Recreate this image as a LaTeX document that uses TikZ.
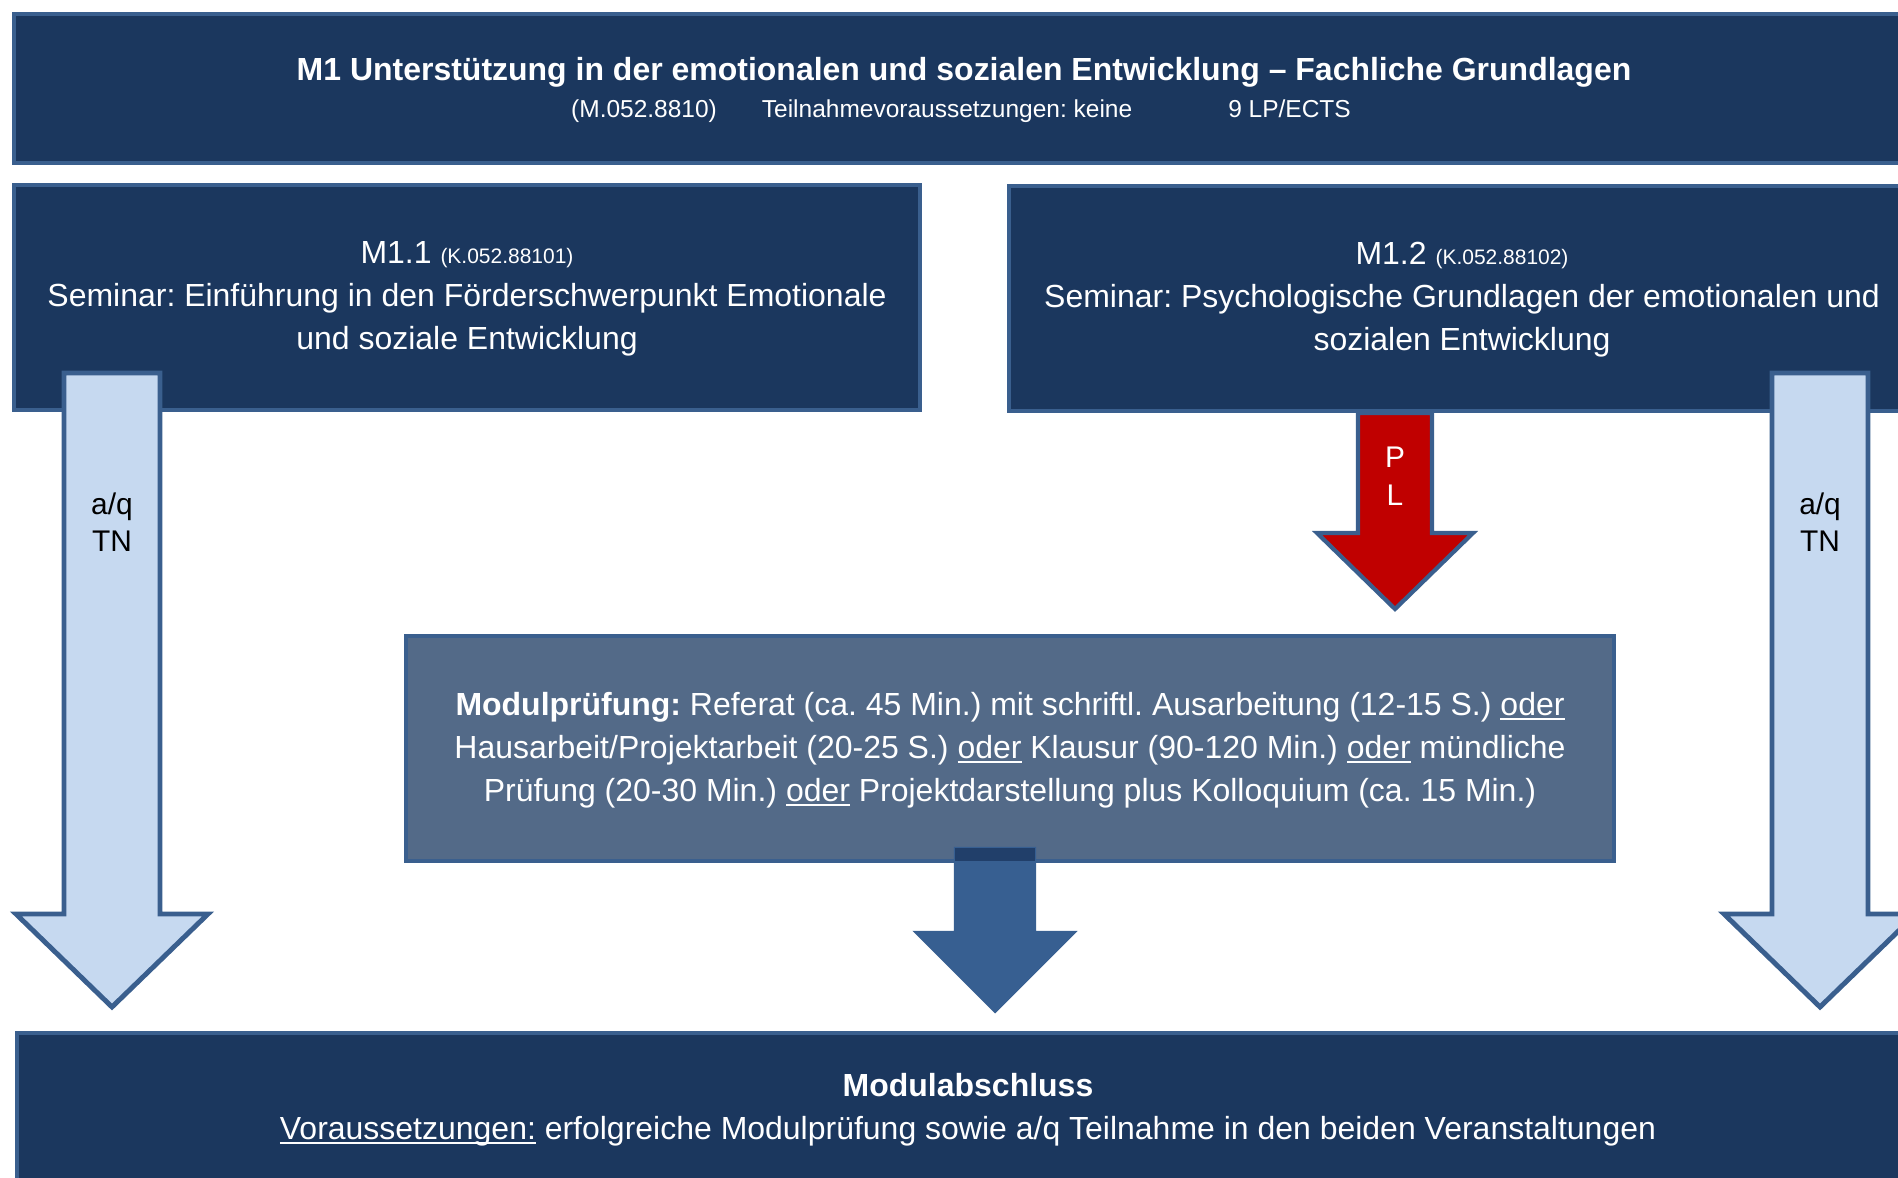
\documentclass[tikz,border=0pt]{standalone}
\usepackage{fontspec}
\setmainfont{Liberation Sans}
\frenchspacing
\definecolor{navy}{HTML}{1B375E}
\definecolor{bordc}{HTML}{3A5F8E}
\definecolor{lightfill}{HTML}{C6D9F0}
\definecolor{slate}{HTML}{536A88}
\definecolor{darkarrow}{HTML}{375F91}
\definecolor{darkcap}{HTML}{213F6A}
\definecolor{redarrow}{HTML}{C00000}
\newcommand\myul[1]{\setbox0\hbox{#1}\rlap{\rule[-0.13em]{\wd0}{0.065em}}\box0\relax}
\begin{document}
\begin{tikzpicture}[x=0.1mm,y=-0.1mm,
  box/.style={draw=bordc,line width=1.4pt,fill=navy,text=white,inner sep=0pt,align=center,
    font=\fontsize{9.1}{12.2}\selectfont},
  boxtext/.style={inner sep=0pt,align=center,text=white,font=\fontsize{9.1}{12.2}\selectfont},
  lightarrow/.style={draw=bordc,line width=1.4pt,fill=lightfill},
  lbl/.style={inner sep=0pt,align=center,font=\fontsize{8.5}{10.5}\selectfont}]
\useasboundingbox (0,0) rectangle (1898,1178);
\clip (0,0) rectangle (1898,1178);
% boxes
\node[box,minimum width=190.4mm,minimum height=14.9mm] (top) at (966,88.5) {};
\node[anchor=base,text=white,inner sep=0pt,font=\bfseries\fontsize{9.1}{11}\selectfont] (title) at (964,80.5)
  {M1 Unterstützung in der emotionalen und sozialen Entwicklung – Fachliche Grundlagen};
\node[anchor=base,text=white,inner sep=0pt,font=\fontsize{6.97}{8.5}\selectfont] (sub) at (961,118)
  {(M.052.8810)\hspace{4.5mm}Teilnahmevoraussetzungen: keine\hspace{9.6mm}9 LP/ECTS};
\node[box,minimum width=90.6mm,minimum height=22.5mm] (m11) at (467,297.5) {};
\node[boxtext] (m11t) at (467,299)
  {M1.1 {\fontsize{5.97}{7}\selectfont (K.052.88101)}\\
   Seminar: Einführung in den Förderschwerpunkt Emotionale\\
   und soziale Entwicklung};
\node[box,minimum width=90.6mm,minimum height=22.5mm] (m12) at (1462,298.5) {};
\node[boxtext] (m12t) at (1462,300)
  {M1.2 {\fontsize{5.97}{7}\selectfont (K.052.88102)}\\
   Seminar: Psychologische Grundlagen der emotionalen und\\
   sozialen Entwicklung};
\node[box,fill=slate,minimum width=120.8mm,minimum height=22.5mm] (mp) at (1010,748.5) {};
\node[boxtext] (mpt) at (1010,750.5)
  {\textbf{Modulprüfung:} Referat (ca. 45 Min.) mit schriftl. Ausarbeitung (12-15 S.) \myul{oder}\\
   Hausarbeit/Projektarbeit (20-25 S.) \myul{oder} Klausur (90-120 Min.) \myul{oder} mündliche\\
   Prüfung (20-30 Min.) \myul{oder} Projektdarstellung plus Kolloquium (ca. 15 Min.)};
\node[box,minimum width=190.2mm,minimum height=14.8mm] (ma) at (968,1107) {};
\node[boxtext] (mat) at (968,1110)
  {\textbf{Modulabschluss}\\
   \myul{Voraussetzungen:} erfolgreiche Modulprüfung sowie a/q Teilnahme in den beiden Veranstaltungen};
% left light arrow
\draw[lightarrow] (64,373) -- (160,373) -- (160,914) -- (208,914) -- (112,1007) -- (16,914) -- (64,914) -- cycle;
\node[lbl] (la) at (112,522.5) {a/q\\TN};
% right light arrow
\draw[lightarrow] (1772,373) -- (1868,373) -- (1868,914) -- (1916,914) -- (1820,1007) -- (1724,914) -- (1772,914) -- cycle;
\node[lbl] (ra) at (1820,522.5) {a/q\\TN};
% red PL arrow
\draw[draw=bordc,line width=1.2pt,fill=redarrow] (1358,413) -- (1432,413) -- (1432,533) -- (1473,533) -- (1395,609) -- (1317,533) -- (1358,533) -- cycle;
\node[lbl,text=white,font=\fontsize{8.5}{10.8}\selectfont] (pl) at (1395,476.5) {P\\L};
% dark arrow
\draw[draw=darkarrow,line width=0.6pt,fill=darkarrow] (955,848) -- (1035,848) -- (1035,932) -- (1075,932) -- (995,1012) -- (915,932) -- (955,932) -- cycle;
\fill[darkcap] (955,848) rectangle (1035,861);
\end{tikzpicture}
\end{document}
